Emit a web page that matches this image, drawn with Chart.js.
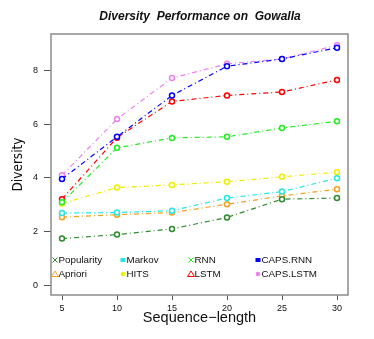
<!DOCTYPE html>
<html>
<head>
<meta charset="utf-8">
<script src="https://cdn.jsdelivr.net/npm/chart.js@4/dist/chart.umd.min.js"></script>
<style>
    html, body { margin: 0; padding: 0; background: #fff; }
    #wrap { width: 374px; height: 339px; }
</style>
</head>
<body>
<div id="wrap"><canvas id="myChart" width="374" height="339"></canvas></div>
<script>
"use strict"

// values
const seqLength = [5, 10, 15, 20, 25, 30]
const xTicks = [5, 10, 15, 20, 25, 30]
const yTicks = [0, 2, 4, 6, 8]

const popularity = [1.74, 1.89, 2.10, 2.53, 3.21, 3.25]
const markov = [2.69, 2.71, 2.78, 3.25, 3.49, 3.99]
const rnn = [3.09, 5.12, 5.49, 5.53, 5.86, 6.11]
const capsRnn = [3.96, 5.53, 7.07, 8.16, 8.43, 8.85]
const apriori = [2.54, 2.63, 2.71, 3.02, 3.33, 3.58]
const hits = [3.05, 3.64, 3.74, 3.86, 4.04, 4.21]
const lstm = [3.21, 5.50, 6.85, 7.07, 7.20, 7.65]
const capsLstm = [4.10, 6.19, 7.72, 8.25, 8.43, 8.94]

const chartTitle = "Diversity  Performance on  Gowalla"
const seriesNames = ["Popularity", "Markov", "RNN", "CAPS.RNN", "Apriori", "HITS", "LSTM", "CAPS.LSTM"]
const seriesValues = [popularity, markov, rnn, capsRnn, apriori, hits, lstm, capsLstm]
const seriesColors = ["#2e8b2e", "#22e8e8", "#22ee22", "#0000ff", "#f5a020", "#eeee00", "#ff0000", "#ee82ee"]
const legendSymbols = ["cross", "square", "cross", "square", "triangle", "dot", "triangle", "dot"]

let datasets = []
for (let i = 0; i < seriesNames.length; i++) {
    datasets.push({
        label: seriesNames[i],
        data: seqLength.map((x, j) => ({ x: x, y: seriesValues[i][j] })),
        borderColor: seriesColors[i],
        backgroundColor: "#ffffff",
        borderWidth: 1.2,
        borderDash: [5, 3, 1, 3],
        pointRadius: 2.5,
        pointBorderWidth: 1.5,
        pointBorderColor: seriesColors[i],
        pointBackgroundColor: "#ffffff",
        tension: 0
    })
}

// box around the plot area + title centred over it
const boxPlugin = {
    id: "box",
    afterDraw(chart) {
        const ctx = chart.ctx
        const a = chart.chartArea
        ctx.save()
        ctx.strokeStyle = "#8c8c8c"
        ctx.lineWidth = 1.5
        ctx.strokeRect(a.left, a.top, a.right - a.left, a.bottom - a.top)

        ctx.fillStyle = "#111"
        ctx.font = "italic bold 12px 'Liberation Sans', Arial, sans-serif"
        ctx.textAlign = "center"
        ctx.textBaseline = "middle"
        ctx.fillText(chartTitle, 200, 17)
        ctx.restore()
    }
}

// legend inside the plot, 2 rows x 4 columns
const insideLegend = {
    id: "insideLegend",
    afterDraw(chart) {
        const ctx = chart.ctx
        const colX = [55, 123, 191, 258]
        const rowY = [260, 274]
        ctx.save()
        ctx.font = "9.8px 'Liberation Sans', Arial, sans-serif"
        ctx.textBaseline = "middle"
        for (let i = 0; i < seriesNames.length; i++) {
            let x = colX[i % 4]
            let y = rowY[Math.floor(i / 4)]
            let c = seriesColors[i]
            ctx.strokeStyle = c
            ctx.fillStyle = c
            ctx.lineWidth = 1
            if (legendSymbols[i] == "cross") {
                ctx.beginPath()
                ctx.moveTo(x - 2.5, y - 2.5); ctx.lineTo(x + 2.5, y + 2.5)
                ctx.moveTo(x + 2.5, y - 2.5); ctx.lineTo(x - 2.5, y + 2.5)
                ctx.stroke()
            } else if (legendSymbols[i] == "square") {
                ctx.fillRect(x - 2.5, y - 2, 5, 4)
            } else if (legendSymbols[i] == "triangle") {
                ctx.beginPath()
                ctx.moveTo(x, y - 3); ctx.lineTo(x + 3.5, y + 2.5); ctx.lineTo(x - 3.5, y + 2.5)
                ctx.closePath()
                ctx.stroke()
            } else {
                ctx.beginPath()
                ctx.arc(x, y, 2.3, 0, Math.PI * 2)
                ctx.fill()
            }
            ctx.fillStyle = "#111"
            ctx.fillText(seriesNames[i], x + 3.5, y + 0.5)
        }
        ctx.restore()
    }
}

var ctx = document.getElementById("myChart").getContext("2d")
var myChart = new Chart(ctx, {
    type: "line",
    data: { datasets: datasets },
    plugins: [boxPlugin, insideLegend],
    options: {
        responsive: false,
        animation: false,
        layout: { padding: { left: 0, right: 26, top: 34, bottom: 0 } },
        plugins: {
            legend: { display: false },
            tooltip: { enabled: false },
            title: { display: false }
        },
        scales: {
            x: {
                type: "linear",
                min: 4,
                max: 31,
                afterBuildTicks(scale) { scale.ticks = xTicks.map(v => ({ value: v })) },
                afterFit(scale) { scale.height = 44 },
                border: { display: false },
                grid: { drawOnChartArea: false, drawTicks: true, tickLength: 5, color: "#555" },
                ticks: {
                    color: "#111",
                    padding: 3,
                    maxRotation: 0,
                    font: { family: "'Liberation Sans', Arial, sans-serif", size: 9 }
                },
                title: {
                    display: true,
                    text: "Sequence\u2212length",
                    color: "#111",
                    font: { family: "'Liberation Sans', Arial, sans-serif", size: 14.5 },
                    padding: { top: 0, bottom: 12.4 }
                }
            },
            y: {
                type: "linear",
                min: -0.36,
                max: 9.36,
                afterBuildTicks(scale) { scale.ticks = yTicks.map(v => ({ value: v })) },
                afterFit(scale) { scale.width = 51 },
                border: { display: false },
                grid: { drawOnChartArea: false, drawTicks: true, tickLength: 7, color: "#555" },
                ticks: {
                    color: "#111",
                    padding: 6,
                    font: { family: "'Liberation Sans', Arial, sans-serif", size: 9 }
                },
                title: {
                    display: true,
                    text: "Diversity",
                    color: "#111",
                    font: { family: "'Liberation Sans Narrow', 'DejaVu Sans Condensed', Arial, sans-serif", size: 13.5 },
                    padding: { top: 10.5, bottom: 0 }
                }
            }
        }
    }
})
</script>
</body>
</html>
